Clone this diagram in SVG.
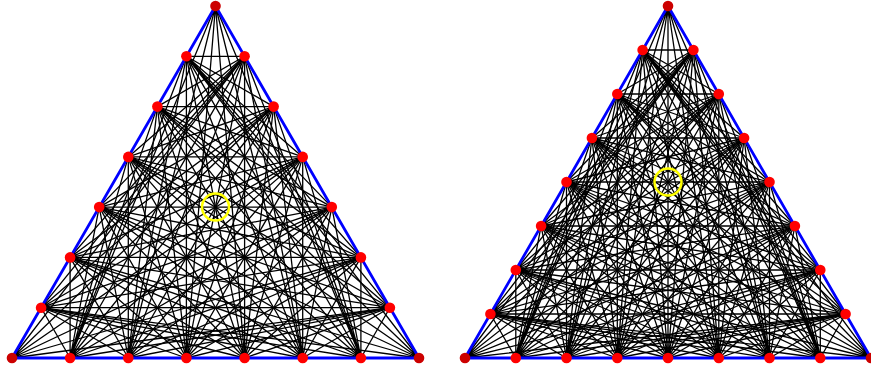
<svg xmlns="http://www.w3.org/2000/svg" width="871" height="370" viewBox="0 0 871 370">
<style>
.ln{fill:none;stroke:#000;stroke-width:1.3}
.edge{fill:none;stroke:#0000ff;stroke-width:2.8;stroke-linejoin:round}
.pt{fill:#ff0000}
.cn{fill:#cc0000}
.hl{fill:none;stroke:#ffff00;stroke-width:2.5}
circle.pt,circle.cn{r:5.3px}
</style>
<rect width="871" height="370" fill="#fff"/>
<g id="connectors">
<g id="left-lines" class="ln">
<path d="M12 358L389.9 307.7M12 358L360.9 257.4M12 358L331.8 207.1M12 358L302.7 156.9M12 358L273.6 106.6M12 358L244.6 56.3"/>
<path d="M419 358L41.1 307.7M419 358L70.1 257.4M419 358L99.2 207.1M419 358L128.3 156.9M419 358L157.4 106.6M419 358L186.4 56.3"/>
<path d="M215.5 6L70.1 358M215.5 6L128.3 358M215.5 6L186.4 358M215.5 6L244.6 358M215.5 6L302.7 358M215.5 6L360.9 358"/>
<path d="M70.1 358L41.1 307.7M70.1 358L70.1 257.4M70.1 358L99.2 207.1M70.1 358L128.3 156.9M70.1 358L157.4 106.6M70.1 358L186.4 56.3"/>
<path d="M128.3 358L41.1 307.7M128.3 358L70.1 257.4M128.3 358L99.2 207.1M128.3 358L128.3 156.9M128.3 358L157.4 106.6M128.3 358L186.4 56.3"/>
<path d="M186.4 358L41.1 307.7M186.4 358L70.1 257.4M186.4 358L99.2 207.1M186.4 358L128.3 156.9M186.4 358L157.4 106.6M186.4 358L186.4 56.3"/>
<path d="M244.6 358L41.1 307.7M244.6 358L70.1 257.4M244.6 358L99.2 207.1M244.6 358L128.3 156.9M244.6 358L157.4 106.6M244.6 358L186.4 56.3"/>
<path d="M302.7 358L41.1 307.7M302.7 358L70.1 257.4M302.7 358L99.2 207.1M302.7 358L128.3 156.9M302.7 358L157.4 106.6M302.7 358L186.4 56.3"/>
<path d="M360.9 358L41.1 307.7M360.9 358L70.1 257.4M360.9 358L99.2 207.1M360.9 358L128.3 156.9M360.9 358L157.4 106.6M360.9 358L186.4 56.3"/>
<path d="M70.1 358L389.9 307.7M70.1 358L360.9 257.4M70.1 358L331.8 207.1M70.1 358L302.7 156.9M70.1 358L273.6 106.6M70.1 358L244.6 56.3"/>
<path d="M128.3 358L389.9 307.7M128.3 358L360.9 257.4M128.3 358L331.8 207.1M128.3 358L302.7 156.9M128.3 358L273.6 106.6M128.3 358L244.6 56.3"/>
<path d="M186.4 358L389.9 307.7M186.4 358L360.9 257.4M186.4 358L331.8 207.1M186.4 358L302.7 156.9M186.4 358L273.6 106.6M186.4 358L244.6 56.3"/>
<path d="M244.6 358L389.9 307.7M244.6 358L360.9 257.4M244.6 358L331.8 207.1M244.6 358L302.7 156.9M244.6 358L273.6 106.6M244.6 358L244.6 56.3"/>
<path d="M302.7 358L389.9 307.7M302.7 358L360.9 257.4M302.7 358L331.8 207.1M302.7 358L302.7 156.9M302.7 358L273.6 106.6M302.7 358L244.6 56.3"/>
<path d="M360.9 358L389.9 307.7M360.9 358L360.9 257.4M360.9 358L331.8 207.1M360.9 358L302.7 156.9M360.9 358L273.6 106.6M360.9 358L244.6 56.3"/>
<path d="M41.1 307.7L389.9 307.7M41.1 307.7L360.9 257.4M41.1 307.7L331.8 207.1M41.1 307.7L302.7 156.9M41.1 307.7L273.6 106.6M41.1 307.7L244.6 56.3"/>
<path d="M70.1 257.4L389.9 307.7M70.1 257.4L360.9 257.4M70.1 257.4L331.8 207.1M70.1 257.4L302.7 156.9M70.1 257.4L273.6 106.6M70.1 257.4L244.6 56.3"/>
<path d="M99.2 207.1L389.9 307.7M99.2 207.1L360.9 257.4M99.2 207.1L331.8 207.1M99.2 207.1L302.7 156.9M99.2 207.1L273.6 106.6M99.2 207.1L244.6 56.3"/>
<path d="M128.3 156.9L389.9 307.7M128.3 156.9L360.9 257.4M128.3 156.9L331.8 207.1M128.3 156.9L302.7 156.9M128.3 156.9L273.6 106.6M128.3 156.9L244.6 56.3"/>
<path d="M157.4 106.6L389.9 307.7M157.4 106.6L360.9 257.4M157.4 106.6L331.8 207.1M157.4 106.6L302.7 156.9M157.4 106.6L273.6 106.6M157.4 106.6L244.6 56.3"/>
<path d="M186.4 56.3L389.9 307.7M186.4 56.3L360.9 257.4M186.4 56.3L331.8 207.1M186.4 56.3L302.7 156.9M186.4 56.3L273.6 106.6M186.4 56.3L244.6 56.3"/>
</g>
<g id="right-lines" class="ln">
<path d="M465 358L845.6 314M465 358L820.3 270M465 358L794.9 226M465 358L769.5 182M465 358L744.1 138M465 358L718.8 94M465 358L693.4 50"/>
<path d="M871 358L490.4 314M871 358L515.8 270M871 358L541.1 226M871 358L566.5 182M871 358L591.9 138M871 358L617.3 94M871 358L642.6 50"/>
<path d="M668 6L515.8 358M668 6L566.5 358M668 6L617.3 358M668 6L668 358M668 6L718.8 358M668 6L769.5 358M668 6L820.3 358"/>
<path d="M515.8 358L490.4 314M515.8 358L515.8 270M515.8 358L541.1 226M515.8 358L566.5 182M515.8 358L591.9 138M515.8 358L617.3 94M515.8 358L642.6 50"/>
<path d="M566.5 358L490.4 314M566.5 358L515.8 270M566.5 358L541.1 226M566.5 358L566.5 182M566.5 358L591.9 138M566.5 358L617.3 94M566.5 358L642.6 50"/>
<path d="M617.3 358L490.4 314M617.3 358L515.8 270M617.3 358L541.1 226M617.3 358L566.5 182M617.3 358L591.9 138M617.3 358L617.3 94M617.3 358L642.6 50"/>
<path d="M668 358L490.4 314M668 358L515.8 270M668 358L541.1 226M668 358L566.5 182M668 358L591.9 138M668 358L617.3 94M668 358L642.6 50"/>
<path d="M718.8 358L490.4 314M718.8 358L515.8 270M718.8 358L541.1 226M718.8 358L566.5 182M718.8 358L591.9 138M718.8 358L617.3 94M718.8 358L642.6 50"/>
<path d="M769.5 358L490.4 314M769.5 358L515.8 270M769.5 358L541.1 226M769.5 358L566.5 182M769.5 358L591.9 138M769.5 358L617.3 94M769.5 358L642.6 50"/>
<path d="M820.3 358L490.4 314M820.3 358L515.8 270M820.3 358L541.1 226M820.3 358L566.5 182M820.3 358L591.9 138M820.3 358L617.3 94M820.3 358L642.6 50"/>
<path d="M515.8 358L845.6 314M515.8 358L820.3 270M515.8 358L794.9 226M515.8 358L769.5 182M515.8 358L744.1 138M515.8 358L718.8 94M515.8 358L693.4 50"/>
<path d="M566.5 358L845.6 314M566.5 358L820.3 270M566.5 358L794.9 226M566.5 358L769.5 182M566.5 358L744.1 138M566.5 358L718.8 94M566.5 358L693.4 50"/>
<path d="M617.3 358L845.6 314M617.3 358L820.3 270M617.3 358L794.9 226M617.3 358L769.5 182M617.3 358L744.1 138M617.3 358L718.8 94M617.3 358L693.4 50"/>
<path d="M668 358L845.6 314M668 358L820.3 270M668 358L794.9 226M668 358L769.5 182M668 358L744.1 138M668 358L718.8 94M668 358L693.4 50"/>
<path d="M718.8 358L845.6 314M718.8 358L820.3 270M718.8 358L794.9 226M718.8 358L769.5 182M718.8 358L744.1 138M718.8 358L718.8 94M718.8 358L693.4 50"/>
<path d="M769.5 358L845.6 314M769.5 358L820.3 270M769.5 358L794.9 226M769.5 358L769.5 182M769.5 358L744.1 138M769.5 358L718.8 94M769.5 358L693.4 50"/>
<path d="M820.3 358L845.6 314M820.3 358L820.3 270M820.3 358L794.9 226M820.3 358L769.5 182M820.3 358L744.1 138M820.3 358L718.8 94M820.3 358L693.4 50"/>
<path d="M490.4 314L845.6 314M490.4 314L820.3 270M490.4 314L794.9 226M490.4 314L769.5 182M490.4 314L744.1 138M490.4 314L718.8 94M490.4 314L693.4 50"/>
<path d="M515.8 270L845.6 314M515.8 270L820.3 270M515.8 270L794.9 226M515.8 270L769.5 182M515.8 270L744.1 138M515.8 270L718.8 94M515.8 270L693.4 50"/>
<path d="M541.1 226L845.6 314M541.1 226L820.3 270M541.1 226L794.9 226M541.1 226L769.5 182M541.1 226L744.1 138M541.1 226L718.8 94M541.1 226L693.4 50"/>
<path d="M566.5 182L845.6 314M566.5 182L820.3 270M566.5 182L794.9 226M566.5 182L769.5 182M566.5 182L744.1 138M566.5 182L718.8 94M566.5 182L693.4 50"/>
<path d="M591.9 138L845.6 314M591.9 138L820.3 270M591.9 138L794.9 226M591.9 138L769.5 182M591.9 138L744.1 138M591.9 138L718.8 94M591.9 138L693.4 50"/>
<path d="M617.3 94L845.6 314M617.3 94L820.3 270M617.3 94L794.9 226M617.3 94L769.5 182M617.3 94L744.1 138M617.3 94L718.8 94M617.3 94L693.4 50"/>
<path d="M642.6 50L845.6 314M642.6 50L820.3 270M642.6 50L794.9 226M642.6 50L769.5 182M642.6 50L744.1 138M642.6 50L718.8 94M642.6 50L693.4 50"/>
</g>
</g>
<g id="left-triangle">
<polygon class="edge" points="215.5,6 12,358 419,358"/>
<circle class="hl" cx="215.5" cy="207.1" r="13.5"/>
</g>
<g id="right-triangle">
<polygon class="edge" points="668,6 465,358 871,358"/>
<circle class="hl" cx="668" cy="182" r="13.5"/>
</g>
<g id="left-nodes">
<g id="L-A"><circle class="cn" cx="215.5" cy="6" r="5.3"/></g>
<g id="L-B"><circle class="cn" cx="12" cy="358" r="5.3"/></g>
<g id="L-C"><circle class="cn" cx="419" cy="358" r="5.3"/></g>
<g id="L-b1"><circle class="pt" cx="70.1" cy="358" r="5.3"/></g>
<g id="L-b2"><circle class="pt" cx="128.3" cy="358" r="5.3"/></g>
<g id="L-b3"><circle class="pt" cx="186.4" cy="358" r="5.3"/></g>
<g id="L-b4"><circle class="pt" cx="244.6" cy="358" r="5.3"/></g>
<g id="L-b5"><circle class="pt" cx="302.7" cy="358" r="5.3"/></g>
<g id="L-b6"><circle class="pt" cx="360.9" cy="358" r="5.3"/></g>
<g id="L-l1"><circle class="pt" cx="41.1" cy="307.7" r="5.3"/></g>
<g id="L-l2"><circle class="pt" cx="70.1" cy="257.4" r="5.3"/></g>
<g id="L-l3"><circle class="pt" cx="99.2" cy="207.1" r="5.3"/></g>
<g id="L-l4"><circle class="pt" cx="128.3" cy="156.9" r="5.3"/></g>
<g id="L-l5"><circle class="pt" cx="157.4" cy="106.6" r="5.3"/></g>
<g id="L-l6"><circle class="pt" cx="186.4" cy="56.3" r="5.3"/></g>
<g id="L-r1"><circle class="pt" cx="389.9" cy="307.7" r="5.3"/></g>
<g id="L-r2"><circle class="pt" cx="360.9" cy="257.4" r="5.3"/></g>
<g id="L-r3"><circle class="pt" cx="331.8" cy="207.1" r="5.3"/></g>
<g id="L-r4"><circle class="pt" cx="302.7" cy="156.9" r="5.3"/></g>
<g id="L-r5"><circle class="pt" cx="273.6" cy="106.6" r="5.3"/></g>
<g id="L-r6"><circle class="pt" cx="244.6" cy="56.3" r="5.3"/></g>
</g>
<g id="right-nodes">
<g id="R-A"><circle class="cn" cx="668" cy="6" r="5.3"/></g>
<g id="R-B"><circle class="cn" cx="465" cy="358" r="5.3"/></g>
<g id="R-C"><circle class="cn" cx="871" cy="358" r="5.3"/></g>
<g id="R-b1"><circle class="pt" cx="515.8" cy="358" r="5.3"/></g>
<g id="R-b2"><circle class="pt" cx="566.5" cy="358" r="5.3"/></g>
<g id="R-b3"><circle class="pt" cx="617.3" cy="358" r="5.3"/></g>
<g id="R-b4"><circle class="pt" cx="668" cy="358" r="5.3"/></g>
<g id="R-b5"><circle class="pt" cx="718.8" cy="358" r="5.3"/></g>
<g id="R-b6"><circle class="pt" cx="769.5" cy="358" r="5.3"/></g>
<g id="R-b7"><circle class="pt" cx="820.3" cy="358" r="5.3"/></g>
<g id="R-l1"><circle class="pt" cx="490.4" cy="314" r="5.3"/></g>
<g id="R-l2"><circle class="pt" cx="515.8" cy="270" r="5.3"/></g>
<g id="R-l3"><circle class="pt" cx="541.1" cy="226" r="5.3"/></g>
<g id="R-l4"><circle class="pt" cx="566.5" cy="182" r="5.3"/></g>
<g id="R-l5"><circle class="pt" cx="591.9" cy="138" r="5.3"/></g>
<g id="R-l6"><circle class="pt" cx="617.3" cy="94" r="5.3"/></g>
<g id="R-l7"><circle class="pt" cx="642.6" cy="50" r="5.3"/></g>
<g id="R-r1"><circle class="pt" cx="845.6" cy="314" r="5.3"/></g>
<g id="R-r2"><circle class="pt" cx="820.3" cy="270" r="5.3"/></g>
<g id="R-r3"><circle class="pt" cx="794.9" cy="226" r="5.3"/></g>
<g id="R-r4"><circle class="pt" cx="769.5" cy="182" r="5.3"/></g>
<g id="R-r5"><circle class="pt" cx="744.1" cy="138" r="5.3"/></g>
<g id="R-r6"><circle class="pt" cx="718.8" cy="94" r="5.3"/></g>
<g id="R-r7"><circle class="pt" cx="693.4" cy="50" r="5.3"/></g>
</g>
</svg>
